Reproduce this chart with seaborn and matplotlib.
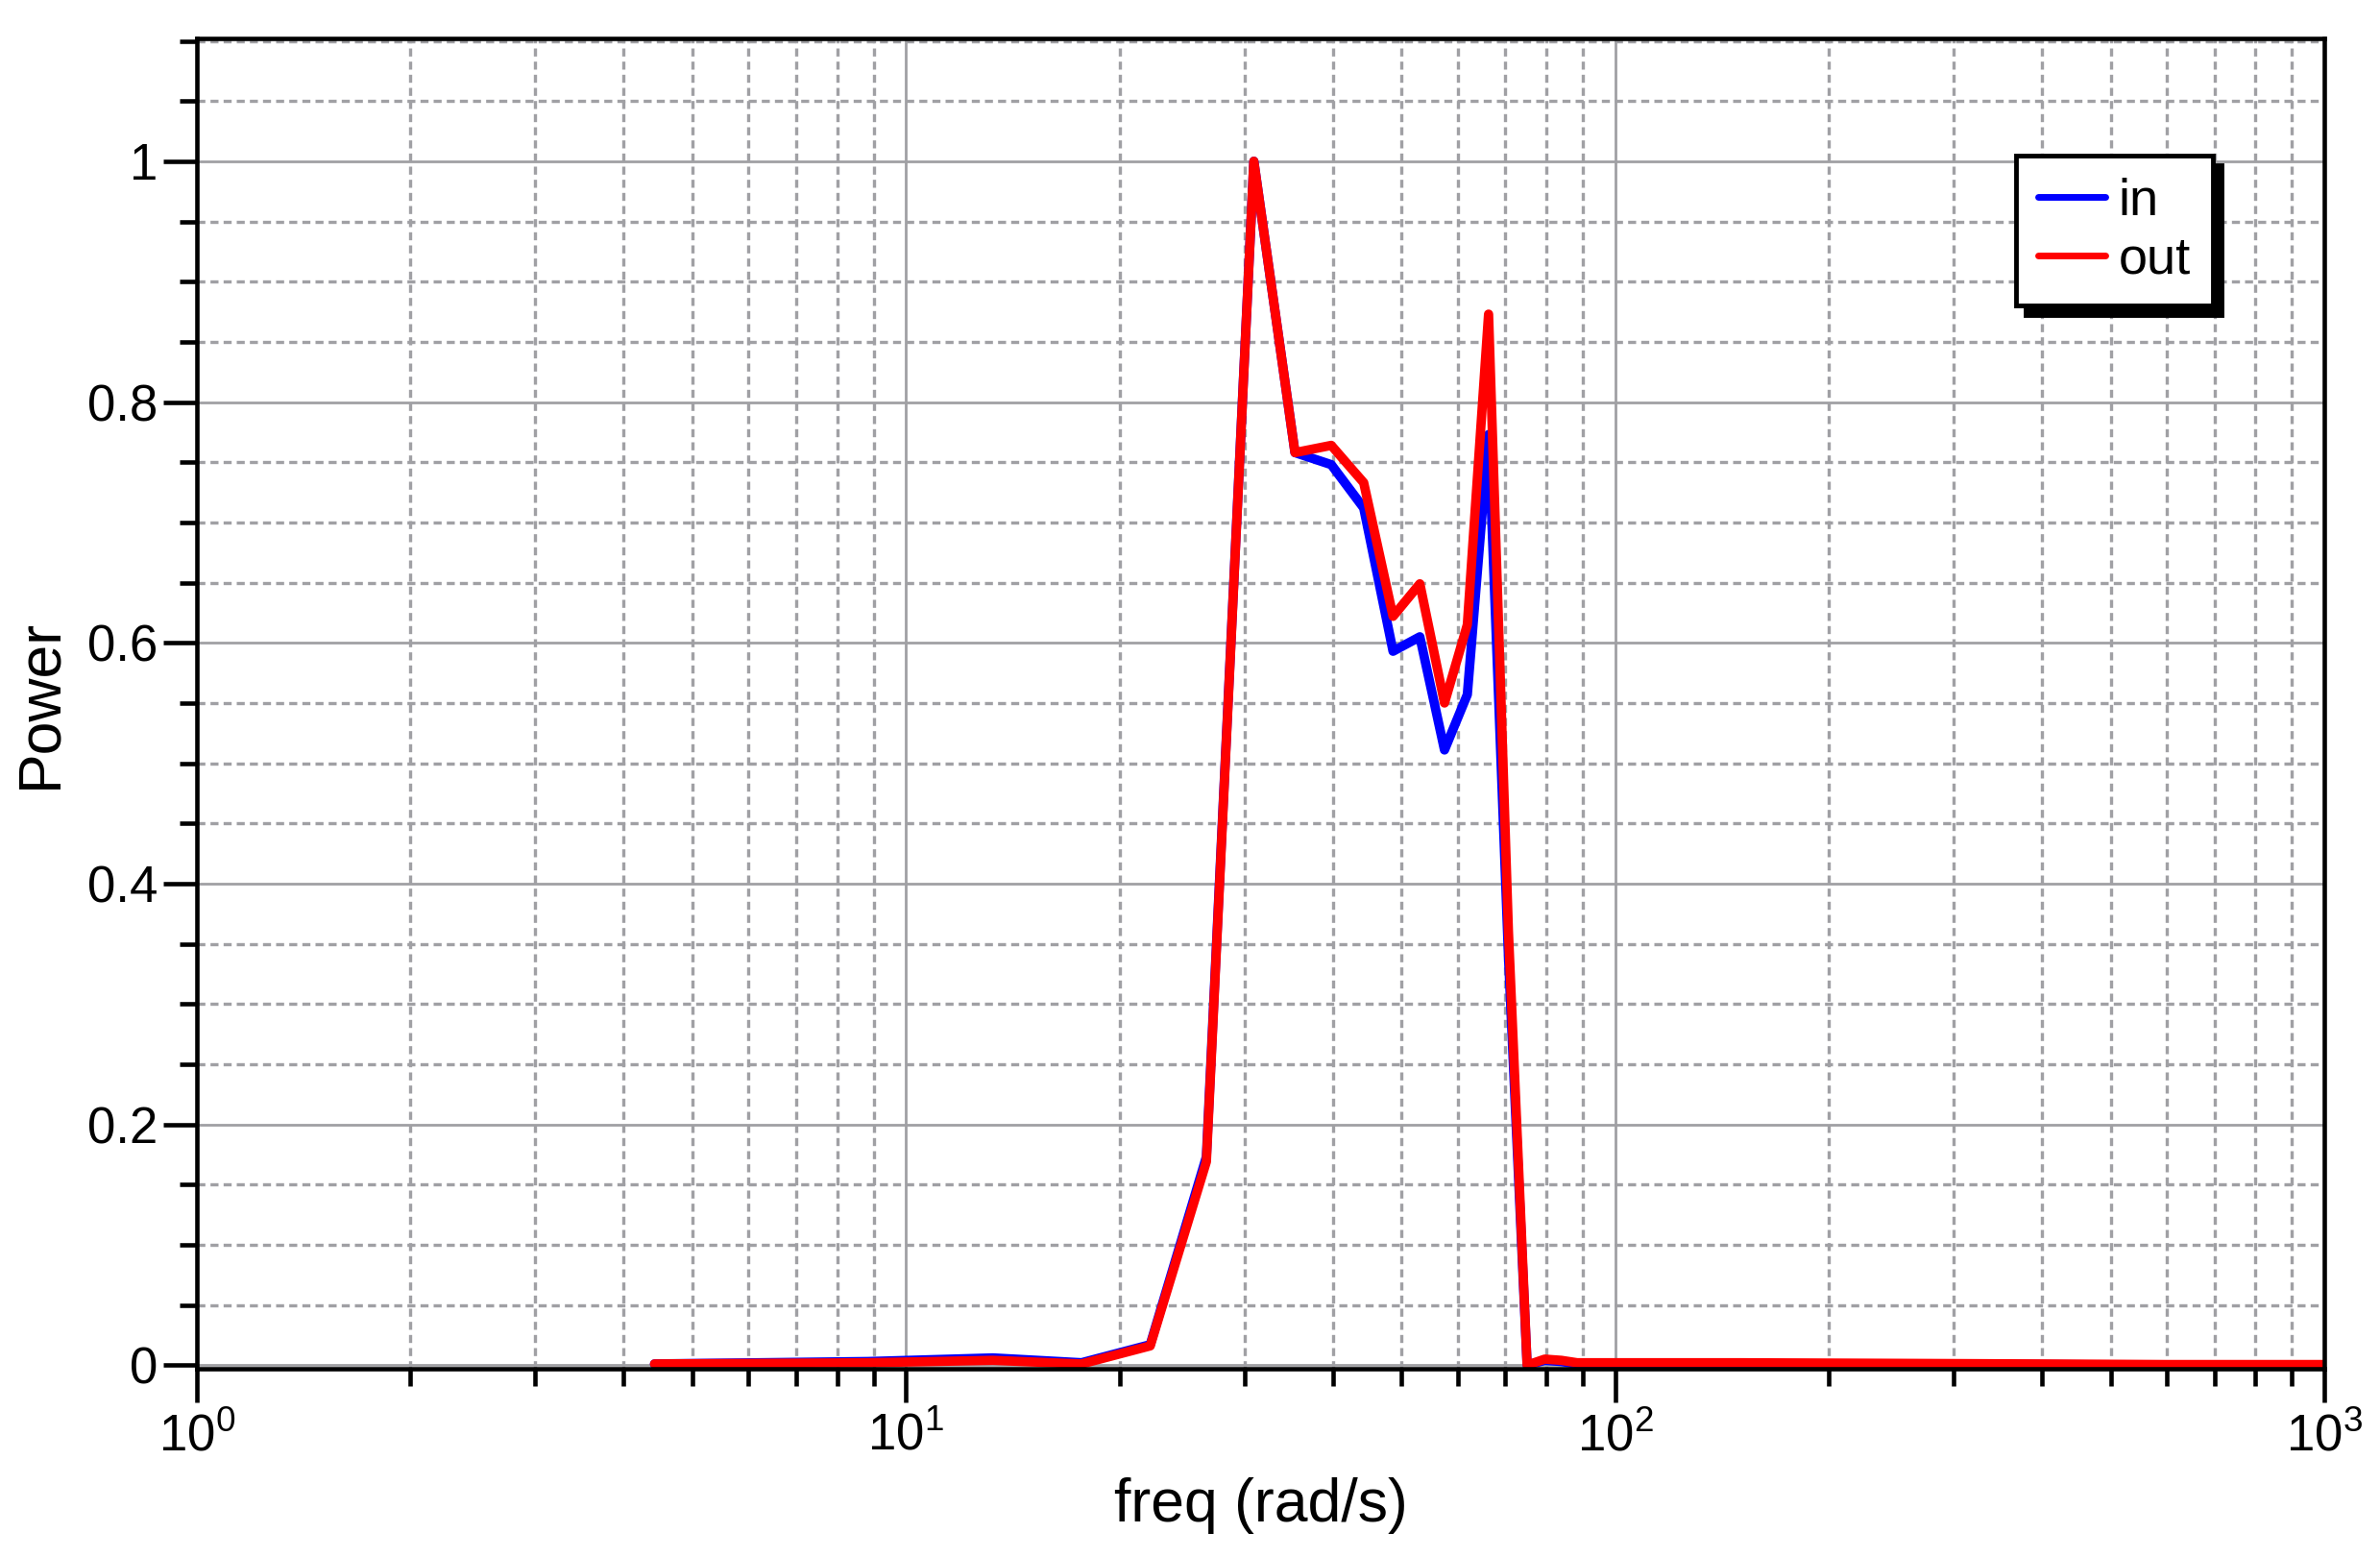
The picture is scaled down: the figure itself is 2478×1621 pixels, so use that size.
import numpy as np
import pandas as pd
import matplotlib
matplotlib.use("Agg")
import matplotlib.pyplot as plt
import matplotlib.ticker as mticker
import seaborn as sns

# frequencies (rad/s)
freq = [4.42, 8.84, 13.26, 17.68, 22.10, 26.52, 30.94, 35.36, 39.78, 44.20,
        48.62, 53.04, 57.46, 61.88, 66.30, 70.72, 75.14, 79.56, 83.98, 88.40,
        92.82, 97.24, 101.66, 150.0, 250.0, 400.0, 600.0, 999.0]

# normalised power, input signal
power_in = [0.001, 0.003, 0.006, 0.002, 0.017, 0.173, 1.0, 0.758, 0.748, 0.712,
            0.593, 0.605, 0.511, 0.557, 0.773, 0.34, 0.0, 0.004, 0.003, 0.001,
            0.001, 0.001, 0.001, 0.001, 0.001, 0.0005, 0.0, 0.0]

# normalised power, output signal
power_out = [0.001, 0.002, 0.004, 0.001, 0.016, 0.169, 1.0, 0.758, 0.764, 0.733,
             0.622, 0.649, 0.550, 0.615, 0.873, 0.36, 0.0, 0.005, 0.004, 0.002,
             0.002, 0.002, 0.002, 0.002, 0.0015, 0.001, 0.0005, 0.0005]

y_ticks = [0, 0.2, 0.4, 0.6, 0.8, 1.0]

df = pd.DataFrame({
    "freq": freq * 2,
    "power": power_in + power_out,
    "signal": ["in"] * len(freq) + ["out"] * len(freq),
})

sns.set_theme(style="ticks")
plt.rcParams["font.family"] = ["Liberation Sans", "DejaVu Sans"]
plt.rcParams["mathtext.fontset"] = "custom"
plt.rcParams["mathtext.rm"] = "Liberation Sans"
plt.rcParams["mathtext.it"] = "Liberation Sans:italic"
plt.rcParams["mathtext.default"] = "regular"
plt.rcParams["text.color"] = "black"
plt.rcParams["axes.labelcolor"] = "black"
plt.rcParams["xtick.color"] = "black"
plt.rcParams["ytick.color"] = "black"

fig = plt.figure(figsize=(24.78, 16.21), dpi=100)
ax = fig.add_axes([0.0827, 0.1209, 0.8939, 0.8544])
ax.set_xscale("log")

sns.lineplot(data=df, x="freq", y="power", hue="signal",
             palette={"in": "#0000ff", "out": "#ff0000"},
             estimator=None, linewidth=7, ax=ax)

ax.set_xlim(1, 1000)
ax.set_ylim(-0.003, 1.102)

# axes styling
ax.set_facecolor("white")
for side in ["left", "bottom", "top", "right"]:
    ax.spines[side].set_visible(True)
    ax.spines[side].set_color("black")
    ax.spines[side].set_linewidth(3.3)

ax.xaxis.set_major_locator(mticker.LogLocator(base=10, numticks=10))
ax.xaxis.set_minor_locator(mticker.LogLocator(base=10, subs=np.arange(2, 10), numticks=20))
ax.xaxis.set_minor_formatter(mticker.NullFormatter())
ax.xaxis.set_major_formatter(mticker.FuncFormatter(lambda v, p: r"$10^{%d}$" % round(np.log10(v))))

ax.yaxis.set_major_locator(mticker.FixedLocator(y_ticks))
ax.yaxis.set_minor_locator(mticker.MultipleLocator(0.05))
ax.yaxis.set_major_formatter(mticker.FuncFormatter(lambda v, p: "%g" % v))

ax.tick_params(which="major", direction="out", length=25, width=3.3, color="black",
               labelcolor="black", labelsize=38, top=False, right=False)
ax.tick_params(axis="x", which="major", pad=8)
ax.tick_params(axis="y", which="major", pad=4)
ax.tick_params(which="minor", direction="out", length=13, width=3.3, color="black",
               top=False, right=False)

ax.grid(which="major", color="#a0a0a4", linestyle="-", linewidth=2.0)
ax.grid(which="minor", color="#a0a0a4", linestyle=(0, (2.5, 1.6)), linewidth=2.4)
ax.set_axisbelow(True)

ax.set_xlabel("freq (rad/s)", fontsize=45, labelpad=12, color="black")
ax.set_ylabel("Power", fontsize=45, labelpad=14, color="black")

leg = ax.legend(loc="upper left", bbox_to_anchor=(0.855, 0.912), borderaxespad=0,
                fontsize=39, frameon=True, fancybox=False, framealpha=1,
                edgecolor="black", borderpad=0.42, labelspacing=0.2,
                handlelength=1.3, handletextpad=0.25,
                shadow={"ox": 7, "oy": -7, "facecolor": "black",
                        "edgecolor": "black", "alpha": 1})
leg.get_frame().set_linewidth(3.5)
for line in leg.get_lines():
    line.set_linewidth(5)
for txt in leg.get_texts():
    txt.set_color("black")

fig.savefig("out.png", dpi=100, facecolor="white")
